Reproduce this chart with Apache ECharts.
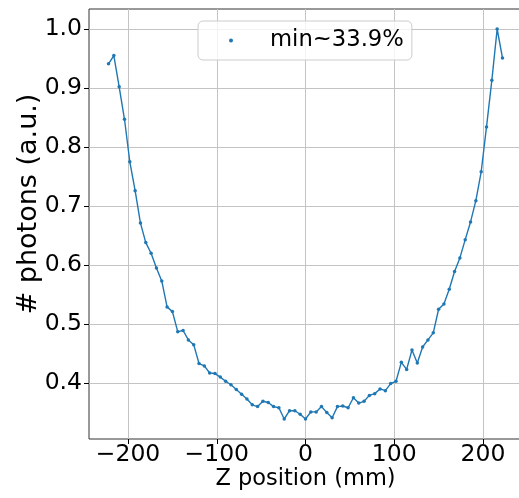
<!DOCTYPE html>
<html>
<head>
<meta charset="utf-8">
<script src="https://cdn.jsdelivr.net/npm/echarts@6/dist/echarts.min.js"></script>
<style>
  html, body { margin: 0; padding: 0; background: #fff; }
  #main { width: 519px; height: 498px; }
</style>
</head>
<body>
<div id="main"></div>
<script>
// Z position of each measurement (mm)
var zPos = [
  -222, -216, -210, -204, -198, -192, -186, -180, -174, -168,
  -162, -156, -150, -144, -138, -132, -126, -120, -114, -108,
  -102, -96, -90, -84, -78, -72, -66, -60, -54, -48,
  -42, -36, -30, -24, -18, -12, -6, 0, 6, 12,
  18, 24, 30, 36, 42, 48, 54, 60, 66, 72,
  78, 84, 90, 96, 102, 108, 114, 120, 126, 132,
  138, 144, 150, 156, 162, 168, 174, 180, 186, 192,
  198, 204, 210, 216, 222
];
// normalised number of photons (a.u.)
var photons = [
  0.941, 0.955, 0.902, 0.847, 0.775, 0.726, 0.671, 0.638, 0.620, 0.595,
  0.573, 0.529, 0.521, 0.487, 0.489, 0.473, 0.465, 0.433, 0.429, 0.417,
  0.416, 0.410, 0.403, 0.397, 0.389, 0.381, 0.373, 0.363, 0.360, 0.369,
  0.367, 0.360, 0.358, 0.339, 0.353, 0.353, 0.347, 0.339, 0.351, 0.351,
  0.360, 0.350, 0.341, 0.360, 0.361, 0.358, 0.375, 0.366, 0.369, 0.379,
  0.382, 0.390, 0.387, 0.399, 0.403, 0.435, 0.423, 0.456, 0.434, 0.461,
  0.473, 0.485, 0.525, 0.534, 0.559, 0.589, 0.612, 0.643, 0.673, 0.709,
  0.758, 0.834, 0.913, 1.000, 0.951
];
var xTicks = [-200, -100, 0, 100, 200];
var yTicks = [0.4, 0.5, 0.6, 0.7, 0.8, 0.9, 1.0];
var seriesName = 'min~33.9%';

var chart = echarts.init(document.getElementById('main'), null, { renderer: 'canvas' });

var points = zPos.map(function (z, i) { return [z, photons[i]]; });
var font = 'DejaVu Sans';

var option = {
  backgroundColor: '#fff',
  animation: false,
  grid: {
    left: 89,
    top: 9,
    width: 433,
    height: 430,
    outerBoundsMode: 'none',
    show: true,
    borderColor: '#333',
    borderWidth: 1,
    backgroundColor: 'transparent'
  },
  legend: {
    left: 198,
    top: 21,
    icon: 'circle',
    itemWidth: 4,
    itemHeight: 4,
    padding: [8, 8, 8, 31],
    backgroundColor: 'rgba(255,255,255,0.8)',
    borderColor: '#ccc',
    borderWidth: 1,
    borderRadius: 5,
    textStyle: { fontFamily: font, fontSize: 22.7, color: '#000', padding: [0, 0, 0, 32] },
    data: [seriesName]
  },
  xAxis: {
    type: 'value',
    min: -244,
    max: 244,
    name: 'Z position (mm)',
    nameLocation: 'middle',
    nameGap: 29,
    nameMoveOverlap: false,
    nameTextStyle: { fontFamily: font, fontSize: 22.5, color: '#000' },
    axisLine: { show: false, onZero: false },
    axisTick: { show: true, customValues: xTicks, length: 5, lineStyle: { color: '#000' } },
    axisLabel: {
      customValues: xTicks,
      margin: 4,
      fontFamily: font,
      fontSize: 23.5,
      color: '#000',
      formatter: function (v) { return v < 0 ? '\u2212' + Math.abs(v) : String(v); }
    },
    splitLine: { show: true, lineStyle: { color: '#c4c4c4', width: 1 } }
  },
  yAxis: {
    type: 'value',
    min: 0.3051,
    max: 1.0339,
    name: '# photons (a.u.)',
    nameLocation: 'middle',
    nameRotate: 90,
    nameGap: 47,
    nameMoveOverlap: false,
    nameTextStyle: { fontFamily: font, fontSize: 27, color: '#000', padding: [0, 0, 0, 40] },
    axisLine: { show: false, onZero: false },
    axisTick: { show: true, customValues: yTicks, length: 5, lineStyle: { color: '#000' } },
    axisLabel: {
      customValues: yTicks,
      margin: 7,
      fontFamily: font,
      fontSize: 23.5,
      color: '#000',
      formatter: function (v) { return v.toFixed(1); }
    },
    splitLine: { show: true, lineStyle: { color: '#c4c4c4', width: 1 } }
  },
  series: [{
    name: seriesName,
    type: 'line',
    data: points,
    symbol: 'circle',
    symbolSize: 3.5,
    showSymbol: true,
    lineStyle: { color: '#1f77b4', width: 1.4 },
    itemStyle: { color: '#1f77b4' }
  }]
};

chart.setOption(option);
</script>
</body>
</html>
